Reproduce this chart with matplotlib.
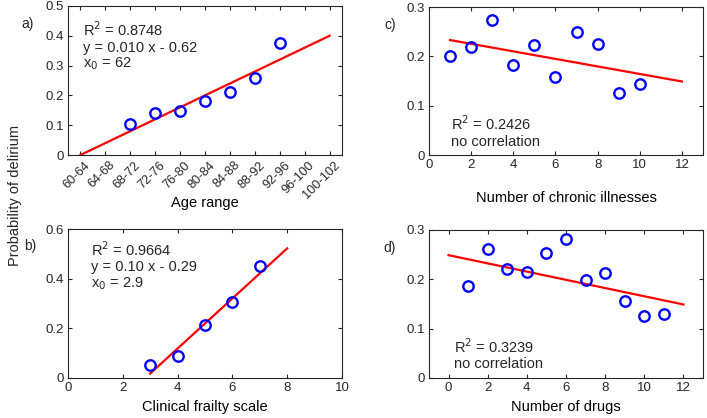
import numpy as np
import matplotlib.pyplot as plt
import matplotlib.transforms as mtransforms

plt.rcParams.update({
    "font.family": ["Liberation Sans", "DejaVu Sans"],
    "font.size": 8,
    "axes.linewidth": 0.8,
    "xtick.direction": "in",
    "ytick.direction": "in",
    "xtick.top": True,
    "ytick.right": True,
    "xtick.major.size": 3,
    "ytick.major.size": 3,
    "xtick.major.pad": 3,
    "ytick.major.pad": 3,
    "xtick.labelsize": 9.5,
    "ytick.labelsize": 9.5,
    "text.color": "#262626",
    "axes.edgecolor": "#262626",
    "xtick.color": "#262626",
    "ytick.color": "#262626",
})

# a) age range
age_labels = ["60-64", "64-68", "68-72", "72-76", "76-80", "80-84",
              "84-88", "88-92", "92-96", "96-100", "100-102"]
age_idx = [3, 4, 5, 6, 7, 8, 9]
age_prob = [0.105, 0.140, 0.148, 0.180, 0.210, 0.258, 0.375]
age_fit_x = [1, 11]
age_fit_y = [0.0, 0.40]

# b) clinical frailty scale
cfs_x = [3, 4, 5, 6, 7]
cfs_prob = [0.052, 0.088, 0.212, 0.305, 0.450]
cfs_fit_x = [3, 8]
cfs_fit_y = [0.018, 0.522]

# c) chronic illnesses
ill_x = [1, 2, 3, 4, 5, 6, 7, 8, 9, 10]
ill_prob = [0.200, 0.218, 0.273, 0.183, 0.222, 0.159, 0.250, 0.225, 0.125, 0.143]
ill_fit_x = [1, 12]
ill_fit_y = [0.233, 0.149]

# d) drugs
drug_x = [1, 2, 3, 4, 5, 6, 7, 8, 9, 10, 11]
drug_prob = [0.187, 0.261, 0.220, 0.215, 0.254, 0.282, 0.198, 0.212, 0.156, 0.125, 0.129]
drug_fit_x = [0, 12]
drug_fit_y = [0.249, 0.149]

W, H = 707, 418
fig = plt.figure(figsize=(W / 100, H / 100), dpi=100)


def px_axes(left, top, right, bottom):
    return fig.add_axes([left / W, 1 - bottom / H, (right - left) / W, (bottom - top) / H])


def draw(ax, x, y, fx, fy):
    ax.plot(fx, fy, color="#ff0000", lw=1.6, zorder=2)
    ax.plot(x, y, "o", ms=7.5, mfc="none", mec="#0000ff", mew=1.7, zorder=3)


def notes(ax, lines, xs, ys):
    for s, yy in zip(lines, ys):
        ax.text(xs, yy, s, transform=ax.transAxes, fontsize=10.5,
                ha="left", va="center")


# a)
ax_a = px_axes(68, 6, 342, 155)
draw(ax_a, age_idx, age_prob, age_fit_x, age_fit_y)
ax_a.set_xlim(0.5, 11.5)
ax_a.set_ylim(0, 0.5)
ax_a.set_xticks(range(1, 12))
ax_a.set_xticklabels(age_labels, rotation=45, ha="right", rotation_mode="anchor",
                     fontsize=9.2)
# nudge rotated labels a little to the right
shift = mtransforms.ScaledTranslation(4 / 100, 0, fig.dpi_scale_trans)
for lab in ax_a.get_xticklabels():
    lab.set_transform(lab.get_transform() + shift)
ax_a.set_yticks([0, 0.1, 0.2, 0.3, 0.4, 0.5])
ax_a.set_yticklabels(["0", "0.1", "0.2", "0.3", "0.4", "0.5"])
ax_a.set_xlabel("Age range", fontsize=10.5, va="center")
ax_a.xaxis.set_label_coords(0.5, -0.325)
notes(ax_a, ["R$^2$ = 0.8748", "y = 0.010 x - 0.62", "x$_0$ = 62"],
      0.055, [0.84, 0.72, 0.61])

# c)
ax_c = px_axes(429, 7, 703, 155)
draw(ax_c, ill_x, ill_prob, ill_fit_x, ill_fit_y)
ax_c.set_xlim(0, 13)
ax_c.set_ylim(0, 0.3)
ax_c.set_xticks([0, 2, 4, 6, 8, 10, 12])
ax_c.set_yticks([0, 0.1, 0.2, 0.3])
ax_c.set_yticklabels(["0", "0.1", "0.2", "0.3"])
ax_c.set_xlabel("Number of chronic illnesses", fontsize=10.5, va="center")
ax_c.xaxis.set_label_coords(0.5, -0.29)
notes(ax_c, ["R$^2$ = 0.2426", "no correlation"], 0.08, [0.21, 0.09])

# b)
ax_b = px_axes(68, 229, 342, 378)
draw(ax_b, cfs_x, cfs_prob, cfs_fit_x, cfs_fit_y)
ax_b.set_xlim(0, 10)
ax_b.set_ylim(0, 0.6)
ax_b.set_xticks([0, 2, 4, 6, 8, 10])
ax_b.set_yticks([0, 0.2, 0.4, 0.6])
ax_b.set_yticklabels(["0", "0.2", "0.4", "0.6"])
ax_b.set_xlabel("Clinical frailty scale", fontsize=10.5, va="center")
ax_b.xaxis.set_label_coords(0.5, -0.195)
notes(ax_b, ["R$^2$ = 0.9664", "y = 0.10 x - 0.29", "x$_0$ = 2.9"],
      0.084, [0.86, 0.745, 0.635])

# d)
ax_d = px_axes(429, 230, 703, 378)
draw(ax_d, drug_x, drug_prob, drug_fit_x, drug_fit_y)
ax_d.set_xlim(-1, 13)
ax_d.set_ylim(0, 0.3)
ax_d.set_xticks([0, 2, 4, 6, 8, 10, 12])
ax_d.set_yticks([0, 0.1, 0.2, 0.3])
ax_d.set_yticklabels(["0", "0.1", "0.2", "0.3"])
ax_d.set_xlabel("Number of drugs", fontsize=10.5, va="center")
ax_d.xaxis.set_label_coords(0.5, -0.195)
notes(ax_d, ["R$^2$ = 0.3239", "no correlation"], 0.09, [0.21, 0.095])

# panel letters and shared y label
for s, x, y in [("a)", 28, 24), ("c)", 390, 25), ("b)", 30, 246), ("d)", 390, 248)]:
    fig.text(x / W, 1 - y / H, s, fontsize=10, ha="center", va="center")
fig.text(15 / W, 1 - 195 / H, "Probability of delirium", rotation=90,
         fontsize=10.5, ha="center", va="center")

fig.savefig("out.png", dpi=100)
